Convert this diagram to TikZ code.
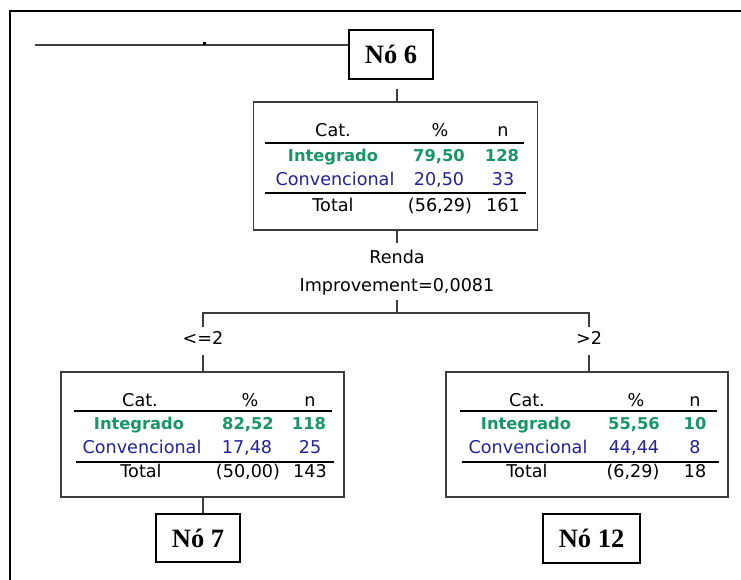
\documentclass[tikz,border=0pt]{standalone}
\usepackage{fontspec}
\setmainfont{Liberation Serif}
\newfontfamily\tabfont{DejaVu Sans}
\definecolor{intgreen}{RGB}{24,150,104}
\definecolor{convblue}{RGB}{34,34,150}
\definecolor{boxgray}{RGB}{60,60,60}
\begin{document}
\begin{tikzpicture}[x=1pt,y=-1pt,
  frameline/.style={line width=2.4pt,black},
  link/.style={line width=1.3pt,boxgray},
  labelbox/.style={draw=black,line width=1.8pt,inner sep=0pt,font=\fontsize{26.5}{26}\selectfont\bfseries},
  treebox/.style={draw=boxgray,line width=1.3pt,inner sep=0pt},
  cell/.style={inner sep=0pt,text height=12.6pt,text depth=0pt,font=\tabfont\fontsize{17.6}{17}\selectfont},
  intcell/.style={cell,text=intgreen,font=\tabfont\bfseries\fontsize{16.3}{16}\selectfont},
  convcell/.style={cell,text=convblue},
  rule/.style={line width=1.3pt,black},
  splitlabel/.style={cell}]
\useasboundingbox (0,0) rectangle (741,580);

% outer frame (left and top edges)
\draw[frameline] (10,580) -- (10,11) -- (741,11);

% label boxes
\node[labelbox,minimum width=84pt,minimum height=49pt] (n6lab) at (391,54.5) {Nó 6};
\node[labelbox,minimum width=84pt,minimum height=48pt] (n7lab) at (198,538) {Nó 7};
\node[labelbox,minimum width=97pt,minimum height=49pt] (n12lab) at (591.5,538.5) {Nó 12};

% incoming line with its small tick
\coordinate (inlet) at (35,45);
\draw[line width=1.4pt,black!75] (inlet) -- (n6lab.west |- inlet);
\fill (203,42.5) rectangle (205.5,45);

% node boxes
\node[treebox,minimum width=284pt,minimum height=128pt] (n6) at (395.5,166) {};
\node[treebox,minimum width=283pt,minimum height=125pt] (n7) at (202.5,434.5) {};
\node[treebox,minimum width=282pt,minimum height=125pt] (n12) at (587,434.5) {};

% node 6 table
\node[cell] (h6a) at (333,130) {Cat.};
\node[cell] (h6b) at (440,130) {\%};
\node[cell] (h6c) at (503,130) {n};
\draw[rule] (265,143) -- (524,143);
\node[intcell] (i6a) at (333,155) {Integrado};
\node[intcell] (i6b) at (439,155) {79,50};
\node[intcell] (i6c) at (502,155) {128};
\node[convcell] (c6a) at (335,179) {Convencional};
\node[convcell] (c6b) at (439,179) {20,50};
\node[convcell] (c6c) at (503,179) {33};
\draw[rule] (265,193) -- (526,193);
\node[cell] (t6a) at (333,205) {Total};
\node[cell] (t6b) at (440,205) {(56,29)};
\node[cell] (t6c) at (503,205) {161};

% node 7 table
\node[cell] (h7a) at (140,400) {Cat.};
\node[cell] (h7b) at (250,400) {\%};
\node[cell] (h7c) at (310,400) {n};
\draw[rule] (74,411) -- (332,411);
\node[intcell] (i7a) at (139,423) {Integrado};
\node[intcell] (i7b) at (248,423) {82,52};
\node[intcell] (i7c) at (309,423) {118};
\node[convcell] (c7a) at (142,447) {Convencional};
\node[convcell] (c7b) at (247,447) {17,48};
\node[convcell] (c7c) at (310,447) {25};
\draw[rule] (76,462) -- (334,462);
\node[cell] (t7a) at (141,471) {Total};
\node[cell] (t7b) at (248,471) {(50,00)};
\node[cell] (t7c) at (310,471) {143};

% node 12 table
\node[cell] (h12a) at (527,400) {Cat.};
\node[cell] (h12b) at (636,400) {\%};
\node[cell] (h12c) at (695,400) {n};
\draw[rule] (460,411) -- (717,411);
\node[intcell] (i12a) at (526,423) {Integrado};
\node[intcell] (i12b) at (634,423) {55,56};
\node[intcell] (i12c) at (695,423) {10};
\node[convcell] (c12a) at (528,447) {Convencional};
\node[convcell] (c12b) at (634,447) {44,44};
\node[convcell] (c12c) at (695,447) {8};
\draw[rule] (462,462) -- (719,462);
\node[cell] (t12a) at (527,471) {Total};
\node[cell] (t12b) at (633,471) {(6,29)};
\node[cell] (t12c) at (695,471) {18};

% split description
\node[cell] (split) at (397,257) {Renda};
\node[cell] (impr) at (397,285) {Improvement=0,0081};
\node[splitlabel] (le) at (203,338) {<=2};
\node[splitlabel] (gt) at (589,338) {>2};

% connectors
\draw[link] (n6lab.south -| 397,0) ++(0,9) -- (397,102);
\draw[link] (397,230) -- (397,243);
\coordinate (fork) at (397,313);
\draw[link] (397,300) -- (fork);
\draw[link] (203,327) -- (203,313) -- (589,313) -- (589,327);
\draw[link] (203,355) -- (n7.north -| 203,0);
\draw[link] (589,355) -- (n12.north -| 589,0);
\draw[link] (n7.south -| 203,0) -- (n7lab.north -| 203,0);
\end{tikzpicture}
\end{document}
